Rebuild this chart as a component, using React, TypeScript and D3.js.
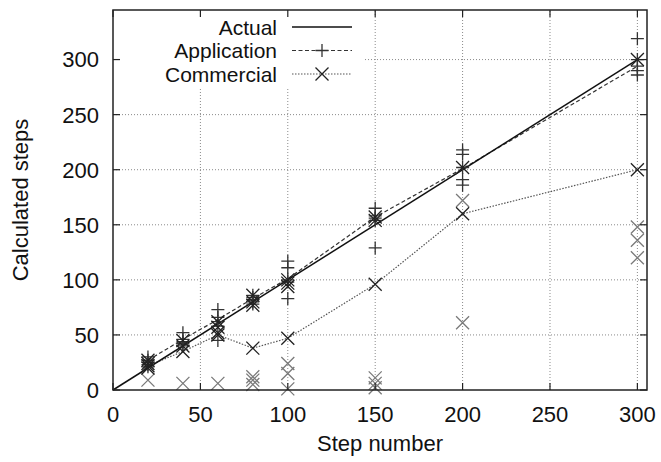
import React from "react";
import * as d3 from "d3";

// ---- data ----
const steps = [20, 40, 60, 80, 100, 150, 200, 300];
const actualLine = [0, 300];
const applicationLine = [27, 46, 64, 83, 101, 157, 201, 294];
const commercialLine = [22, 35, 50, 38, 47, 96, 160, 200];

// individual runs: [step, calculated]
const applicationRuns: [number, number][] = [
  [20, 30], [20, 27], [20, 25], [20, 23], [20, 21],
  [40, 52], [40, 46], [40, 44], [40, 42], [40, 40],
  [60, 73], [60, 66], [60, 62], [60, 58], [60, 45],
  [80, 86], [80, 84], [80, 82], [80, 80], [80, 78],
  [100, 117], [100, 111], [100, 100], [100, 98], [100, 83],
  [150, 165], [150, 158], [150, 156], [150, 154], [150, 129],
  [200, 218], [200, 214], [200, 202], [200, 191], [200, 186],
  [300, 319], [300, 300], [300, 294], [300, 290], [300, 286],
];
const commercialHits: [number, number][] = [
  [20, 27], [20, 24], [20, 22], [20, 20],
  [40, 45], [40, 40], [40, 35],
  [60, 62], [60, 57], [60, 52], [60, 50],
  [80, 86], [80, 80], [80, 77], [80, 38],
  [100, 100], [100, 97], [100, 94], [100, 47],
  [150, 157], [150, 154], [150, 96],
  [200, 202], [200, 160],
  [300, 300], [300, 200],
];
const commercialMisses: [number, number][] = [
  [20, 9], [40, 6], [60, 6],
  [80, 12], [80, 9], [80, 5],
  [100, 24], [100, 15], [100, 1],
  [150, 11], [150, 6], [150, 2],
  [200, 172], [200, 61],
  [300, 148], [300, 136], [300, 120],
];
const xTicks = [0, 50, 100, 150, 200, 250, 300];
const yTicks = [0, 50, 100, 150, 200, 250, 300];
const xDomain = [0, 305.5];
const yDomain = [0, 345];
const legendLabels = ["Actual", "Application", "Commercial"];
const xTitle = "Step number";
const yTitle = "Calculated steps";

const W = 661, H = 462;
const left = 113, right = 647, top = 10, bottom = 390;
const FONT = "'Liberation Sans', Arial, Helvetica, sans-serif";

const Plus = ({ x, y, s, c }: { x: number; y: number; s: number; c: string }) => (
  <path d={`M${x - s},${y}H${x + s}M${x},${y - s}V${y + s}`} stroke={c} strokeWidth={1.3} fill="none" />
);
const Cross = ({ x, y, s, c }: { x: number; y: number; s: number; c: string }) => (
  <path d={`M${x - s},${y - s}L${x + s},${y + s}M${x - s},${y + s}L${x + s},${y - s}`} stroke={c} strokeWidth={1.3} fill="none" />
);

export default function App() {
  const x = d3.scaleLinear().domain(xDomain).range([left, right]);
  const y = d3.scaleLinear().domain(yDomain).range([bottom, top]);
  const line = d3
    .line<[number, number]>()
    .x((d) => x(d[0]))
    .y((d) => y(d[1]));
  const actualPts: [number, number][] = actualLine.map((v) => [v, v]);
  const appPts: [number, number][] = steps.map((s, i) => [s, applicationLine[i]]);
  const comPts: [number, number][] = steps.map((s, i) => [s, commercialLine[i]]);
  const ms = 6.5;
  const tick = 7;
  const legendRows = [27, 50.5, 74];
  const legTextX = 277, legLine0 = 292, legLine1 = 352;

  return (
    <svg width={W} height={H} style={{ position: "absolute", left: 0, top: 0, background: "#fff" }} fontFamily={FONT}>
      <rect x={0} y={0} width={W} height={H} fill="#fff" />
      {/* grid */}
      <g stroke="#8a8a8a" strokeWidth={1} strokeDasharray="1,2">
        {xTicks.slice(1).map((t) => (
          <line key={"gx" + t} x1={x(t)} x2={x(t)} y1={bottom} y2={top} />
        ))}
        {yTicks.slice(1).map((t) => (
          <line key={"gy" + t} x1={left} x2={right} y1={y(t)} y2={y(t)} />
        ))}
      </g>
      {/* key background */}
      <rect x={left + 1} y={top + 1} width={362 - left} height={87 - top} fill="#fff" />
      {/* data */}
      <path d={line(comPts) || ""} fill="none" stroke="#555" strokeWidth={1.2} strokeDasharray="1.5,1.5" />
      <path d={line(appPts) || ""} fill="none" stroke="#333" strokeWidth={1.2} strokeDasharray="4,2.5" />
      <path d={line(actualPts) || ""} fill="none" stroke="#111" strokeWidth={1.5} />
      {commercialMisses.map((d, i) => (
        <Cross key={"cm" + i} x={x(d[0])} y={y(d[1])} s={ms} c="#7a7a7a" />
      ))}
      {applicationRuns.map((d, i) => (
        <Plus key={"ap" + i} x={x(d[0])} y={y(d[1])} s={ms} c="#333" />
      ))}
      {commercialHits.map((d, i) => (
        <Cross key={"ch" + i} x={x(d[0])} y={y(d[1])} s={ms} c="#222" />
      ))}
      {/* border */}
      <rect x={left} y={top} width={right - left} height={bottom - top} fill="none" stroke="#222" strokeWidth={1.5} />
      {/* ticks */}
      <g stroke="#222" strokeWidth={1.2}>
        {xTicks.map((t) => (
          <g key={"tx" + t}>
            <line x1={x(t)} x2={x(t)} y1={bottom} y2={bottom - tick} />
            <line x1={x(t)} x2={x(t)} y1={top} y2={top + tick} />
          </g>
        ))}
        {yTicks.map((t) => (
          <g key={"ty" + t}>
            <line x1={left} x2={left + tick} y1={y(t)} y2={y(t)} />
            <line x1={right} x2={right - tick} y1={y(t)} y2={y(t)} />
          </g>
        ))}
      </g>
      {/* tick labels */}
      <g fontSize={22} fill="#111">
        {xTicks.map((t) => (
          <text key={"lx" + t} x={x(t)} y={422} textAnchor="middle">
            {t}
          </text>
        ))}
        {yTicks.map((t) => (
          <text key={"ly" + t} x={99} y={y(t)} dy="0.36em" textAnchor="end">
            {t}
          </text>
        ))}
      </g>
      {/* axis titles */}
      <text x={(left + right) / 2} y={451} textAnchor="middle" fontSize={22} fill="#111">
        {xTitle}
      </text>
      <text transform={`translate(28,${(top + bottom) / 2}) rotate(-90)`} textAnchor="middle" fontSize={22} fill="#111">
        {yTitle}
      </text>
      {/* legend */}
      <g fontSize={21} fill="#111">
        {legendLabels.map((l, i) => (
          <text key={l} x={legTextX} y={legendRows[i]} dy="0.36em" textAnchor="end">
            {l}
          </text>
        ))}
      </g>
      <line x1={legLine0} x2={legLine1} y1={legendRows[0]} y2={legendRows[0]} stroke="#111" strokeWidth={1.5} />
      <line x1={legLine0} x2={legLine1} y1={legendRows[1]} y2={legendRows[1]} stroke="#333" strokeWidth={1.2} strokeDasharray="4,2.5" />
      <Plus x={(legLine0 + legLine1) / 2} y={legendRows[1]} s={ms} c="#333" />
      <line x1={legLine0} x2={legLine1} y1={legendRows[2]} y2={legendRows[2]} stroke="#555" strokeWidth={1.2} strokeDasharray="1.5,1.5" />
      <Cross x={(legLine0 + legLine1) / 2} y={legendRows[2]} s={ms} c="#222" />
    </svg>
  );
}
